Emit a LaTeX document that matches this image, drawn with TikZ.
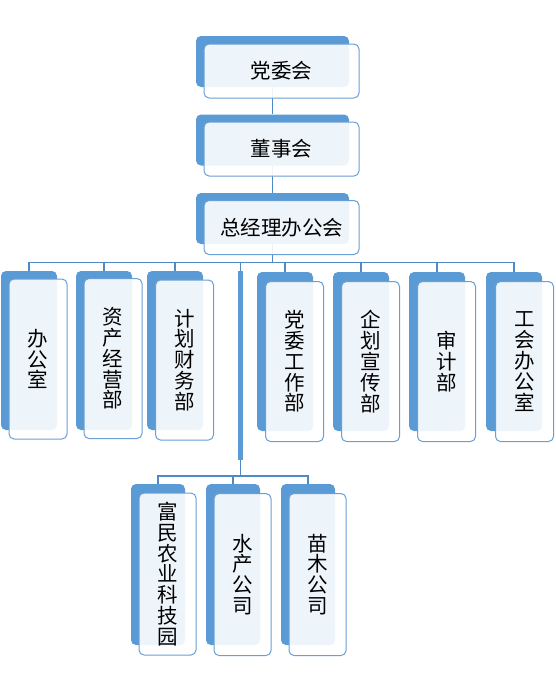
\documentclass[tikz,border=0pt]{standalone}
\usepackage{fontspec}
\newfontfamily\cjk{Noto Sans CJK SC}
\definecolor{bk}{HTML}{5B9BD5}
\definecolor{bd}{HTML}{6A9FD6}
\definecolor{ln}{HTML}{4F89C6}
\begin{document}
\begin{tikzpicture}[x=1pt,y=-1pt,
  back/.style={fill=bk,draw=none,rounded corners=5pt,inner sep=0pt},
  front/.style={fill=white,fill opacity=0.9,text opacity=1,draw=bd,draw opacity=1,line width=1pt,rounded corners=5pt,inner sep=0pt,align=center,font=\cjk\fontsize{20.5}{20.8}\selectfont},
  hb/.style={minimum width=153pt,minimum height=51pt},
  hf/.style={minimum width=155pt,minimum height=54pt},
  vb/.style={minimum width=56pt,minimum height=159pt},
  vf/.style={minimum width=58pt,minimum height=160pt},
  wb/.style={minimum width=54pt,minimum height=161pt},
  wf/.style={minimum width=57pt,minimum height=162pt},
  conn/.style={draw=ln,line width=1.1pt}]
\useasboundingbox (0,0) rectangle (555,691);
% back boxes
\node[back,hb] (t1) at (272.5,61.5) {};
\node[back,hb] (t2) at (272.5,140) {};
\node[back,hb] (t3) at (272.5,218.5) {};
\node[back,vb] (d1) at (29,350.5) {};
\node[back,vb] (d2) at (104,350.5) {};
\node[back,vb] (d3) at (175,350.5) {};
\node[back,vb] (d4) at (285,351.5) {};
\node[back,vb] (d5) at (361,351.5) {};
\node[back,vb] (d6) at (437,351.5) {};
\node[back,vb] (d7) at (514,351.5) {};
\node[back,minimum width=5pt,minimum height=189pt,rounded corners=0pt] (bar) at (240.5,365.5) {};
\node[back,wb] (e1) at (158,564.5) {};
\node[back,wb] (e2) at (233,564.5) {};
\node[back,wb] (e3) at (308,564.5) {};
% connectors
\coordinate (j1) at (272.5,262.5);
\coordinate (j2) at (240.5,476);
\draw[conn] (t1.south) -- (t2.north);
\draw[conn] (t2.south) -- (t3.north);
\draw[conn] (t3.south) -- (j1);
\draw[conn] (d1.north) -- (d1.north |- j1) -- (d7.north |- j1) -- (d7.north);
\foreach \n in {d2,d3,d4,d5,d6,bar} \draw[conn] (\n.north) -- (\n.north |- j1);
\draw[conn] (bar.south) -- (j2);
\draw[conn] (e1.north) -- (e1.north |- j2) -- (e3.north |- j2) -- (e3.north);
\draw[conn] (e2.north) -- (e2.north |- j2);
% front boxes
\node[front,hf] (f1) at (281.5,71) {党委会};
\node[front,hf] (f2) at (281.5,149) {董事会};
\node[front,hf] (f3) at (281.5,227.5) {总经理办公会};
\node[front,vf] (g1) at (38,359) {办\\公\\室};
\node[front,vf] (g2) at (113,358.5) {资\\产\\经\\营\\部};
\node[front,vf] (g3) at (184.5,360) {计\\划\\财\\务\\部};
\node[front,vf] (g4) at (294.5,361.5) {党\\委\\工\\作\\部};
\node[front,vf] (g5) at (370.5,361.5) {企\\划\\宣\\传\\部};
\node[front,vf] (g6) at (446.5,361.5) {审\\计\\部};
\node[front,vf] (g7) at (524.5,361.5) {工\\会\\办\\公\\室};
\node[front,wf] (h1) at (167.5,574) {富\\民\\农\\业\\科\\技\\园};
\node[front,wf] (h2) at (242.5,574.5) {水\\产\\公\\司};
\node[front,wf] (h3) at (317.5,574.5) {苗\\木\\公\\司};
\end{tikzpicture}
\end{document}
